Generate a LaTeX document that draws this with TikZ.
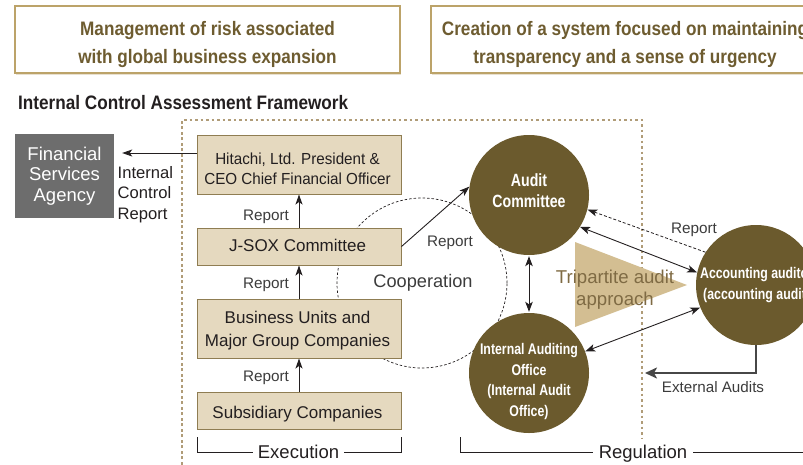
\documentclass[tikz,border=0pt]{standalone}
\usepackage{fontspec}
\setmainfont{Liberation Sans}
\newfontfamily\hdfont[FakeStretch=0.88]{Liberation Sans}
\newfontfamily\cifont[FakeStretch=0.8]{Liberation Sans}
\newfontfamily\hifont[FakeStretch=0.95]{Liberation Sans}
\usetikzlibrary{arrows.meta}
\definecolor{boxfill}{HTML}{E5D9BF}
\definecolor{boxline}{HTML}{8F7D52}
\definecolor{circfill}{HTML}{6B5A2D}
\definecolor{trifill}{HTML}{D3BE92}
\definecolor{hdline}{HTML}{BCA369}
\definecolor{hdtxt}{HTML}{6E5C30}
\definecolor{ink}{HTML}{231F20}
\definecolor{lblc}{HTML}{3C3C3C}
\definecolor{fsafill}{HTML}{6D6D6D}
\definecolor{dotc}{HTML}{B09C78}
\definecolor{tritxt}{HTML}{7F6B44}
\definecolor{extc}{HTML}{474747}
\definecolor{shadowc}{HTML}{E8E0CF}
\begin{document}
\begin{tikzpicture}[x=1pt,y=-1pt,
  hdbox/.style={draw=hdline,line width=1.2pt,fill=white,minimum width=385pt,minimum height=67pt,inner sep=0pt},
  hdtext/.style={text=hdtxt,align=center,inner sep=0pt,font=\hdfont\bfseries\fontsize{19.5}{27.6}\selectfont},
  box/.style={draw=boxline,fill=boxfill,line width=1pt,minimum width=204pt,inner sep=0pt},
  boxtext/.style={text=ink,align=center,inner sep=0pt,font=\fontsize{17}{22.3}\selectfont},
  circ/.style={circle,fill=circfill,minimum size=120pt,inner sep=0pt},
  circtext/.style={text=white,align=center,inner sep=0pt,font=\cifont\bfseries\fontsize{15.4}{20.8}\selectfont},
  lbl/.style={text=lblc,inner sep=0pt,font=\fontsize{15.3}{18}\selectfont},
  tip/.style={},
  arr/.style={draw=ink,line width=0.9pt,-{Stealth[length=10pt,width=7pt,inset=2.5pt]}},
  darr/.style={draw=ink,line width=0.9pt,{Stealth[length=10pt,width=7.5pt,inset=2.5pt]}-{Stealth[length=10pt,width=7.5pt,inset=2.5pt]}},
  extarr/.style={draw=extc,line width=2.8pt,-{Stealth[length=12pt,width=11pt,inset=3pt]}},
  brk/.style={draw=ink,line width=1pt},
  brklbl/.style={fill=white,inner xsep=5pt,inner ysep=2pt,text=ink,font=\fontsize{18.5}{20}\selectfont}
]
\useasboundingbox (0,0) rectangle (803,464);
\clip (0,0) rectangle (803,464);

% headers
\draw[shadowc,line width=1.5pt] (16,74.6) -- (401,74.6);
\draw[shadowc,line width=1.5pt] (432,74.6) -- (817,74.6);
\node[hdbox] (hd1) at (207.5,39.5) {};
\node[hdtext] (hd1t) at (207.5,44.5) {Management of risk associated\\with global business expansion};
\node[hdbox] (hd2) at (623.5,39.5) {};
\node[hdtext] (hd2t) at (625,44.5) {Creation of a system focused on maintaining\\transparency and a sense of urgency};

\node[anchor=west,inner sep=0pt,text=ink,font=\hdfont\bfseries\fontsize{19.5}{24}\selectfont] (title) at (18,103) {Internal Control Assessment Framework};

% dotted frame
\draw[dotc,line width=1.8pt,dash pattern=on 2.6pt off 2.9pt] (182,470) -- (182,120) -- (642,120) -- (642,439);

% cooperation circle
\draw[ink,line width=0.7pt,dash pattern=on 2.5pt off 2pt] (422,283) circle[radius=85pt];

% triangle
\fill[trifill] (575,242) -- (687,285) -- (575,327) -- cycle;

% boxes
\node[fill=fsafill,minimum width=99pt,minimum height=84pt,inner sep=0pt,text=white,align=center,font=\fontsize{18.5}{20.7}\selectfont] (fsa) at (64.5,176) {Financial\\Services\\Agency};
\node[box,minimum height=59pt] (hit) at (299,164.5) {};
\node[box,minimum height=37pt] (jsox) at (299,246.5) {};
\node[box,minimum height=59pt] (bus) at (299,328.5) {};
\node[box,minimum height=37pt] (sub) at (299,410.5) {};
\node[boxtext,font=\hifont\fontsize{16}{20}\selectfont] (hitt) at (297.5,169) {Hitachi, Ltd. President \&\\CEO Chief Financial Officer};
\node[boxtext] (jsoxt) at (297.5,245) {J-SOX Committee};
\node[boxtext] (bust) at (297.5,330.7) {Business Units and\\Major Group Companies};
\node[boxtext] (subt) at (297.5,413.7) {Subsidiary Companies};

% circles
\node[circ] (audit) at (529,195) {};
\node[circ] (ia) at (529,373) {};
\node[circ] (acc) at (756,285) {};
\node[circtext,font=\cifont\bfseries\fontsize{17.7}{21}\selectfont] (auditt) at (529,191) {Audit\\Committee};
\node[circtext] (iat) at (529,381.5) {Internal Auditing\\Office\\(Internal Audit\\Office)};
\node[circtext,font=\cifont\bfseries\fontsize{15.4}{21}\selectfont] (acct) at (760,285.5) {Accounting auditors\\(accounting audits)};

% labels
\node[text=ink,anchor=west,align=left,inner sep=0pt,font=\fontsize{16.6}{20.5}\selectfont] (icr) at (117.5,194.6) {Internal\\Control\\Report};
\node[lbl] (r1) at (266,217) {Report};
\node[lbl] (r2) at (266,285) {Report};
\node[lbl] (r3) at (266,377.5) {Report};
\node[lbl] (r4) at (450,242.5) {Report};
\node[lbl] (r5) at (694,229.5) {Report};
\node[lbl,font=\fontsize{18.2}{20}\selectfont] (coop) at (423,282.5) {Cooperation};
\node[lbl,font=\fontsize{15.2}{18}\selectfont] (ext) at (713,387) {External Audits};
\node[text=tritxt,align=center,inner sep=0pt,font=\fontsize{18.6}{21.6}\selectfont] (trit) at (615,289.4) {Tripartite audit\\approach};

% connectors
\draw[arr] ([yshift=11.5pt]hit.west) -- ([xshift=8pt,yshift=23pt]fsa.east);
\draw[arr] (jsox.north) -- (hit.south);
\draw[arr] (bus.north) -- (jsox.south);
\draw[arr] (sub.north) -- (bus.south);
\draw[arr] (jsox.east) -- (audit.172);
\draw[darr] ([yshift=-1pt]audit.south) -- ([yshift=1pt]ia.north);
\draw[arr,dash pattern=on 3pt off 2pt,line width=0.8pt] (acc.147) -- (audit.346);
\draw[darr] (audit.328) -- (acc.168);
\draw[darr] (ia.21) -- (acc.202);
\coordinate (extend) at (645,373);
\draw[extarr] (acc.south) |- (extend);

% brackets
\draw[brk] (197,437) -- (197,452) -- (401,452) -- (401,437);
\node[brklbl] (exe) at (298.5,452) {Execution};
\draw[brk] (460,437) -- (460,452) -- (810,452);
\node[brklbl,inner xsep=6pt] (reg) at (643,453.5) {Regulation};
\end{tikzpicture}
\end{document}
